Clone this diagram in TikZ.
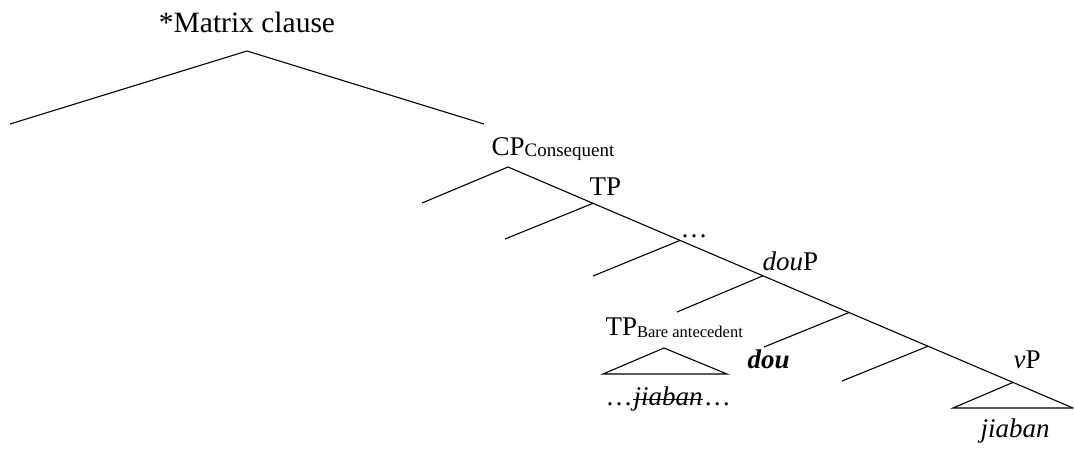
\documentclass[tikz,border=0pt]{standalone}
\usepackage{fontspec}
\setmainfont{Liberation Serif}
\begin{document}
\begin{tikzpicture}[x=1pt,y=-1pt,line width=1.1pt,
  lbl/.style={inner sep=0pt,anchor=base west,font=\fontsize{27}{30}\selectfont},
  branch/.style={line width=1.1pt}]
\useasboundingbox (0,0) rectangle (1074,448);

% tree junctions and branch ends
\coordinate (root)  at (247,51);
\coordinate (rootL) at (10,124);
\coordinate (rootR) at (484,124);
\coordinate (cp)    at (508,167);
\coordinate (cpL)   at (422,203);
\coordinate (tp)    at (593,203.3);
\coordinate (tpL)   at (505,239);
\coordinate (dots)  at (680,240.4);
\coordinate (dotsL) at (593,276);
\coordinate (doup)  at (763,275.8);
\coordinate (doupL) at (677,312);
\coordinate (jA)    at (849,312.5);
\coordinate (jAL)   at (764,347);
\coordinate (jB)    at (928,346.2);
\coordinate (jBL)   at (842,381);
\coordinate (vp)    at (1013,382.4);
\coordinate (vpL)   at (953,408);
\coordinate (vpR)   at (1073,408);
\coordinate (ba)    at (664,348);
\coordinate (baL)   at (603,374);
\coordinate (baR)   at (727,374);

% labels
\node[lbl,anchor=base,font=\fontsize{29.5}{32}\selectfont] (mc) at (247,32) {*Matrix clause};
\node[lbl] (cplab) at (491,155) {CP{\fontsize{19}{20}\selectfont\raisebox{-1pt}{Consequent}}};
\node[lbl] (tplab) at (589,195) {TP};
\node[lbl] (dotlab) at (680,237) {\ldots};
\node[lbl] (douplab) at (762,270) {\textit{dou}P};
\node[lbl] (balab) at (605,335) {TP{\fontsize{16.5}{18}\selectfont\raisebox{-2pt}{Bare antecedent}}};
\node[lbl] (dou) at (747,368) {\textbf{\textit{dou}}};
\node[lbl] (vplab) at (1013,368) {\textit{v}P};
\node[lbl] (jbL) at (605,405) {\ldots};
\node[lbl] (jb) at (jbL.base east) {\textit{jiaban}};
\node[lbl] (jbR) at (jb.base east) {\ldots};
\node[lbl] (jiaban) at (980,437) {\textit{jiaban}};
\draw[line width=1.3pt] ([yshift=5.5pt]jb.base west) -- ([yshift=5.5pt]jb.base east);

% branches
\draw[branch] (rootL) -- (root) -- (rootR);
\draw[branch] (cpL) -- (cp) -- (tp) -- (dots) -- (doup) -- (jA) -- (jB) -- (vp) -- (vpR);
\draw[branch] (tp) -- (tpL);
\draw[branch] (dots) -- (dotsL);
\draw[branch] (doup) -- (doupL);
\draw[branch] (jA) -- (jAL);
\draw[branch] (jB) -- (jBL);
\draw[branch] (vp) -- (vpL) -- (vpR);
\draw[branch] (ba) -- (baL) -- (baR) -- cycle;
\end{tikzpicture}
\end{document}
